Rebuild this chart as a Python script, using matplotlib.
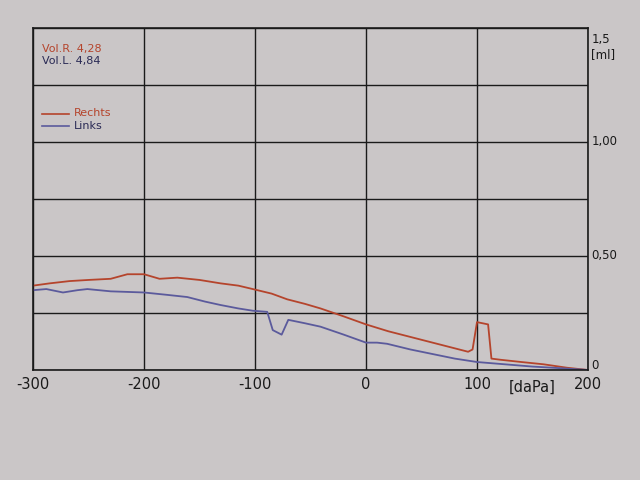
import matplotlib
matplotlib.use("Agg")
import matplotlib.pyplot as plt

# Data (pressure in daPa, volume in ml)
x_rechts = [-300, -285, -267, -250, -230, -215, -200, -186, -170, -150, -131, -115, -102, -85, -71,
            -55, -41, -20, 0, 20, 40, 60, 80, 92, 96, 100, 110, 113, 121, 140, 160, 181, 200]
y_rechts = [0.37, 0.38, 0.39, 0.395, 0.40, 0.42, 0.42, 0.40, 0.405, 0.395, 0.38, 0.37, 0.355, 0.335, 0.31,
            0.29, 0.27, 0.235, 0.20, 0.17, 0.145, 0.12, 0.095, 0.08, 0.09, 0.21, 0.20, 0.05, 0.045, 0.035,
            0.025, 0.01, 0.0]

x_links = [-300, -288, -273, -260, -251, -230, -200, -180, -161, -145, -131, -115, -102, -89, -84, -76,
           -70, -55, -41, -20, 0, 10, 19, 40, 60, 80, 100, 125, 150, 175, 200]
y_links = [0.35, 0.355, 0.34, 0.35, 0.355, 0.345, 0.34, 0.33, 0.32, 0.30, 0.285, 0.27, 0.26, 0.255, 0.175,
           0.155, 0.22, 0.205, 0.19, 0.155, 0.12, 0.12, 0.115, 0.09, 0.07, 0.05, 0.035, 0.025, 0.015,
           0.008, 0.0]

x_ticks = [-300, -200, -100, 0, 100, 200]
x_tick_labels = ["-300", "-200", "-100", "0", "100", "200"]
y_grid = [0, 0.25, 0.5, 0.75, 1.0, 1.25, 1.5]
y_labels = {1.0: "1,00", 0.5: "0,50", 0.0: "0"}

paper = "#cac6c7"
red = "#b5442c"
blue = "#5b5a9c"

fig = plt.figure(figsize=(6.4, 4.8), dpi=100, facecolor=paper)
ax = fig.add_axes([33 / 640, 1 - 370 / 480, (588 - 33) / 640, (370 - 28) / 480])
ax.set_facecolor(paper)
ax.set_xlim(-300, 200)
ax.set_ylim(0, 1.5)

ax.set_xticks(x_ticks)
ax.set_xticklabels(x_tick_labels)
ax.set_yticks(y_grid)
ax.set_yticklabels([])
ax.tick_params(length=0, labelsize=10.5, colors="#1a1a1a", pad=5)
ax.grid(True, color="#1a1a1a", linewidth=1.0)
for s in ax.spines.values():
    s.set_color("#1a1a1a")
    s.set_linewidth(1.2)

ax.plot(x_rechts, y_rechts, color=red, linewidth=1.3, label="Rechts")
ax.plot(x_links, y_links, color=blue, linewidth=1.3, label="Links")

# Right-side volume labels
for v, t in y_labels.items():
    ax.text(203, v + (0.02 if v == 0 else 0), t, fontsize=8.5, color="#1a1a1a",
            ha="left", va="center")
ax.text(203, 1.45, "1,5", fontsize=8.5, color="#1a1a1a", ha="left", va="center")
ax.text(203, 1.385, "[ml]", fontsize=8.5, color="#1a1a1a", ha="left", va="center")

# Unit label at x axis
ax.text(150, -0.045, "[daPa]", fontsize=10.5, color="#1a1a1a", ha="center", va="top")

# Volume annotations
ax.text(-292, 1.41, "Vol.R. 4,28", fontsize=8, color=red, ha="left", va="center")
ax.text(-292, 1.355, "Vol.L. 4,84", fontsize=8, color="#2a2a55", ha="left", va="center")

# Legend (manual)
ax.plot([-292, -268], [1.125, 1.125], color=red, linewidth=1.2)
ax.text(-263, 1.125, "Rechts", fontsize=8, color=red, ha="left", va="center")
ax.plot([-292, -268], [1.07, 1.07], color=blue, linewidth=1.2)
ax.text(-263, 1.07, "Links", fontsize=8, color="#2a2a55", ha="left", va="center")

fig.savefig("out.png", dpi=100, facecolor=paper)
